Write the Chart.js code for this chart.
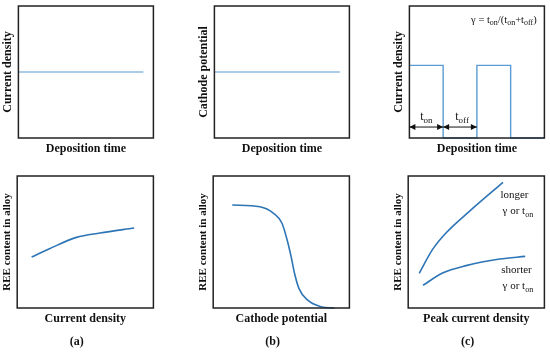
<!DOCTYPE html>
<html>
<head>
<meta charset="utf-8">
<script src="https://cdn.jsdelivr.net/npm/chart.js@4"></script>
<style>
  body { margin: 0; background: #fff; width: 550px; height: 353px; position: relative; overflow: hidden; }
  .p { position: absolute; }
</style>
</head>
<body>
<div class="p" style="left:0px;top:0px;width:160px;height:160px"><canvas id="c1"></canvas></div>
<div class="p" style="left:196px;top:0px;width:160px;height:160px"><canvas id="c2"></canvas></div>
<div class="p" style="left:391px;top:0px;width:160px;height:160px"><canvas id="c3"></canvas></div>
<div class="p" style="left:0px;top:170px;width:160px;height:183px"><canvas id="c4"></canvas></div>
<div class="p" style="left:196px;top:170px;width:160px;height:183px"><canvas id="c5"></canvas></div>
<div class="p" style="left:391px;top:170px;width:160px;height:183px"><canvas id="c6"></canvas></div>
<script>
// --- data (arbitrary units, axes run 0..10) ---
const dcTimeX = [0, 9.26];
const dcCurrentY = [5, 5];
const potTimeX = [0, 9.3];
const potConstY = [5, 5];
const pulseX = [0, 2.5, 2.5, 5, 5, 7.5, 7.5, 10];
const pulseY = [5.5, 5.5, 0, 0, 5.5, 5.5, 0, 0];
const pulseSpans = [[0, 2.5], [2.5, 5]];
const pulseSpanNames = ['on', 'off'];

const reeVsCurrentX = [1.06, 2.37, 4.35, 6.07, 8.59];
const reeVsCurrentY = [3.86, 4.49, 5.35, 5.68, 6.06];
const reeVsPotX = [1.40, 3.43, 4.43, 5.05, 5.43, 5.72, 5.97, 6.29, 6.92, 7.91, 8.90];
const reeVsPotY = [7.80, 7.67, 7.17, 6.42, 5.15, 3.89, 2.63, 1.49, 0.61, 0.10, 0];
const longerX = [0.81, 1.78, 2.77, 4.49, 6.96];
const longerY = [2.63, 4.42, 5.68, 7.32, 9.52];
const shorterX = [1.09, 2.52, 4.25, 6.72, 8.59];
const shorterY = [1.72, 2.65, 3.21, 3.71, 3.91];

const SERIF = "'Liberation Serif', 'DejaVu Serif', serif";
const lightBlue = '#5b9bd5';
const blue = '#2e75b6';

const toPts = (xs, ys) => xs.map((x, i) => ({ x: x, y: ys[i] }));

// frame around the plot area
Chart.register({
  id: 'frame',
  afterDatasetsDraw(chart) {
    const a = chart.chartArea, ctx = chart.ctx;
    ctx.save();
    ctx.strokeStyle = '#222';
    ctx.lineWidth = 1.5;
    ctx.strokeRect(a.left, a.top, a.right - a.left, a.bottom - a.top);
    ctx.restore();
  }
});

// text with subscripts: parts = [[text, isSub], ...]
function drawRich(ctx, parts, cx, cy, size) {
  const big = size + 'px ' + SERIF, small = Math.round(size * 0.72) + 'px ' + SERIF;
  let w = 0;
  parts.forEach(p => { ctx.font = p[1] ? small : big; w += ctx.measureText(p[0]).width; });
  let x = cx - w / 2;
  ctx.textBaseline = 'middle';
  ctx.textAlign = 'left';
  parts.forEach(p => {
    ctx.font = p[1] ? small : big;
    ctx.fillText(p[0], x, p[1] ? cy + size * 0.3 : cy);
    x += ctx.measureText(p[0]).width;
  });
}

function arrowHead(ctx, x, y, dir) {
  ctx.beginPath();
  ctx.moveTo(x, y);
  ctx.lineTo(x - dir * 6, y - 3);
  ctx.lineTo(x - dir * 6, y + 3);
  ctx.closePath();
  ctx.fill();
}

function makePanel(id, xTitle, yTitle, datasets, opts) {
  opts = opts || {};
  new Chart(document.getElementById(id), {
    type: 'line',
    data: { datasets: datasets },
    options: {
      responsive: true,
      maintainAspectRatio: false,
      animation: false,
      layout: { padding: { top: 6, right: 6.6, bottom: opts.label ? 0.2 : 1.6, left: 0 } },
      elements: { point: { radius: 0 } },
      plugins: {
        legend: { display: false },
        tooltip: { enabled: false },
        title: {
          display: !!opts.label,
          text: opts.label || '',
          position: 'bottom',
          color: '#111',
          font: { family: SERIF, size: 12, weight: 'bold' },
          padding: { top: 6, bottom: 4 }
        }
      },
      scales: {
        x: {
          type: 'linear', min: 0, max: 10,
          grid: { display: false, drawTicks: false },
          border: { display: false },
          ticks: { display: false },
          title: { display: true, text: xTitle, color: '#111',
            font: { family: SERIF, size: 12, weight: 'bold' }, padding: { top: 4, bottom: 2 } }
        },
        y: {
          min: 0, max: 10,
          grid: { display: false, drawTicks: false },
          border: { display: false },
          ticks: { display: false },
          title: { display: true, text: yTitle, color: '#111',
            font: { family: SERIF, size: opts.ySize || 12, weight: 'bold' }, padding: { top: 1, bottom: 3 } }
        }
      }
    },
    plugins: opts.plugins || []
  });
}

function line(xs, ys, color, width, smooth) {
  return {
    data: toPts(xs, ys),
    borderColor: color,
    borderWidth: width,
    fill: false,
    clip: false,
    tension: 0,
    cubicInterpolationMode: smooth ? 'monotone' : 'default'
  };
}

// ---------- top row ----------
makePanel('c1', 'Deposition time', 'Current density', [line(dcTimeX, dcCurrentY, lightBlue, 1.2)]);
makePanel('c2', 'Deposition time', 'Cathode potential', [line(potTimeX, potConstY, lightBlue, 1.2)]);

const pulseNotes = {
  id: 'pulseNotes',
  afterDatasetsDraw(chart) {
    const ctx = chart.ctx, xs = chart.scales.x, ys = chart.scales.y;
    ctx.save();
    ctx.fillStyle = '#111';
    ctx.strokeStyle = '#111';
    ctx.lineWidth = 1;
    const ay = ys.getPixelForValue(0.83);
    pulseSpans.forEach((s, i) => {
      const x0 = xs.getPixelForValue(s[0]), x1 = xs.getPixelForValue(s[1]);
      ctx.beginPath();
      ctx.moveTo(x0, ay);
      ctx.lineTo(x1, ay);
      ctx.stroke();
      arrowHead(ctx, x0, ay, -1);
      arrowHead(ctx, x1, ay, 1);
      const lx = xs.getPixelForValue(i === 0 ? 1.26 : 3.9);
      drawRich(ctx, [['t', 0], [pulseSpanNames[i], 1]], lx, ys.getPixelForValue(1.6), 12);
    });
    drawRich(ctx, [['γ = t', 0], ['on', 1], ['/(t', 0], ['on', 1], ['+t', 0], ['off', 1], [')', 0]],
      xs.getPixelForValue(7.0), ys.getPixelForValue(8.95), 10.5);
    ctx.restore();
  }
};
makePanel('c3', 'Deposition time', 'Current density', [line(pulseX, pulseY, lightBlue, 1.4)],
  { plugins: [pulseNotes] });

// ---------- bottom row ----------
makePanel('c4', 'Current density', 'REE content in alloy',
  [line(reeVsCurrentX, reeVsCurrentY, blue, 1.6, true)], { label: '(a)', ySize: 11 });
makePanel('c5', 'Cathode potential', 'REE content in alloy',
  [line(reeVsPotX, reeVsPotY, blue, 1.6, true)], { label: '(b)', ySize: 11 });

const gammaNotes = {
  id: 'gammaNotes',
  afterDatasetsDraw(chart) {
    const ctx = chart.ctx, xs = chart.scales.x, ys = chart.scales.y;
    ctx.save();
    ctx.fillStyle = '#111';
    drawRich(ctx, [['longer', 0]], xs.getPixelForValue(7.8), ys.getPixelForValue(8.59), 11);
    drawRich(ctx, [['γ or t', 0], ['on', 1]], xs.getPixelForValue(8.05), ys.getPixelForValue(7.32), 11);
    drawRich(ctx, [['shorter', 0]], xs.getPixelForValue(7.95), ys.getPixelForValue(2.9), 11);
    drawRich(ctx, [['γ or t', 0], ['on', 1]], xs.getPixelForValue(8.05), ys.getPixelForValue(1.64), 11);
    ctx.restore();
  }
};
makePanel('c6', 'Peak current density', 'REE content in alloy',
  [line(longerX, longerY, blue, 1.6, true), line(shorterX, shorterY, blue, 1.6, true)],
  { label: '(c)', ySize: 11, plugins: [gammaNotes] });
</script>
</body>
</html>
